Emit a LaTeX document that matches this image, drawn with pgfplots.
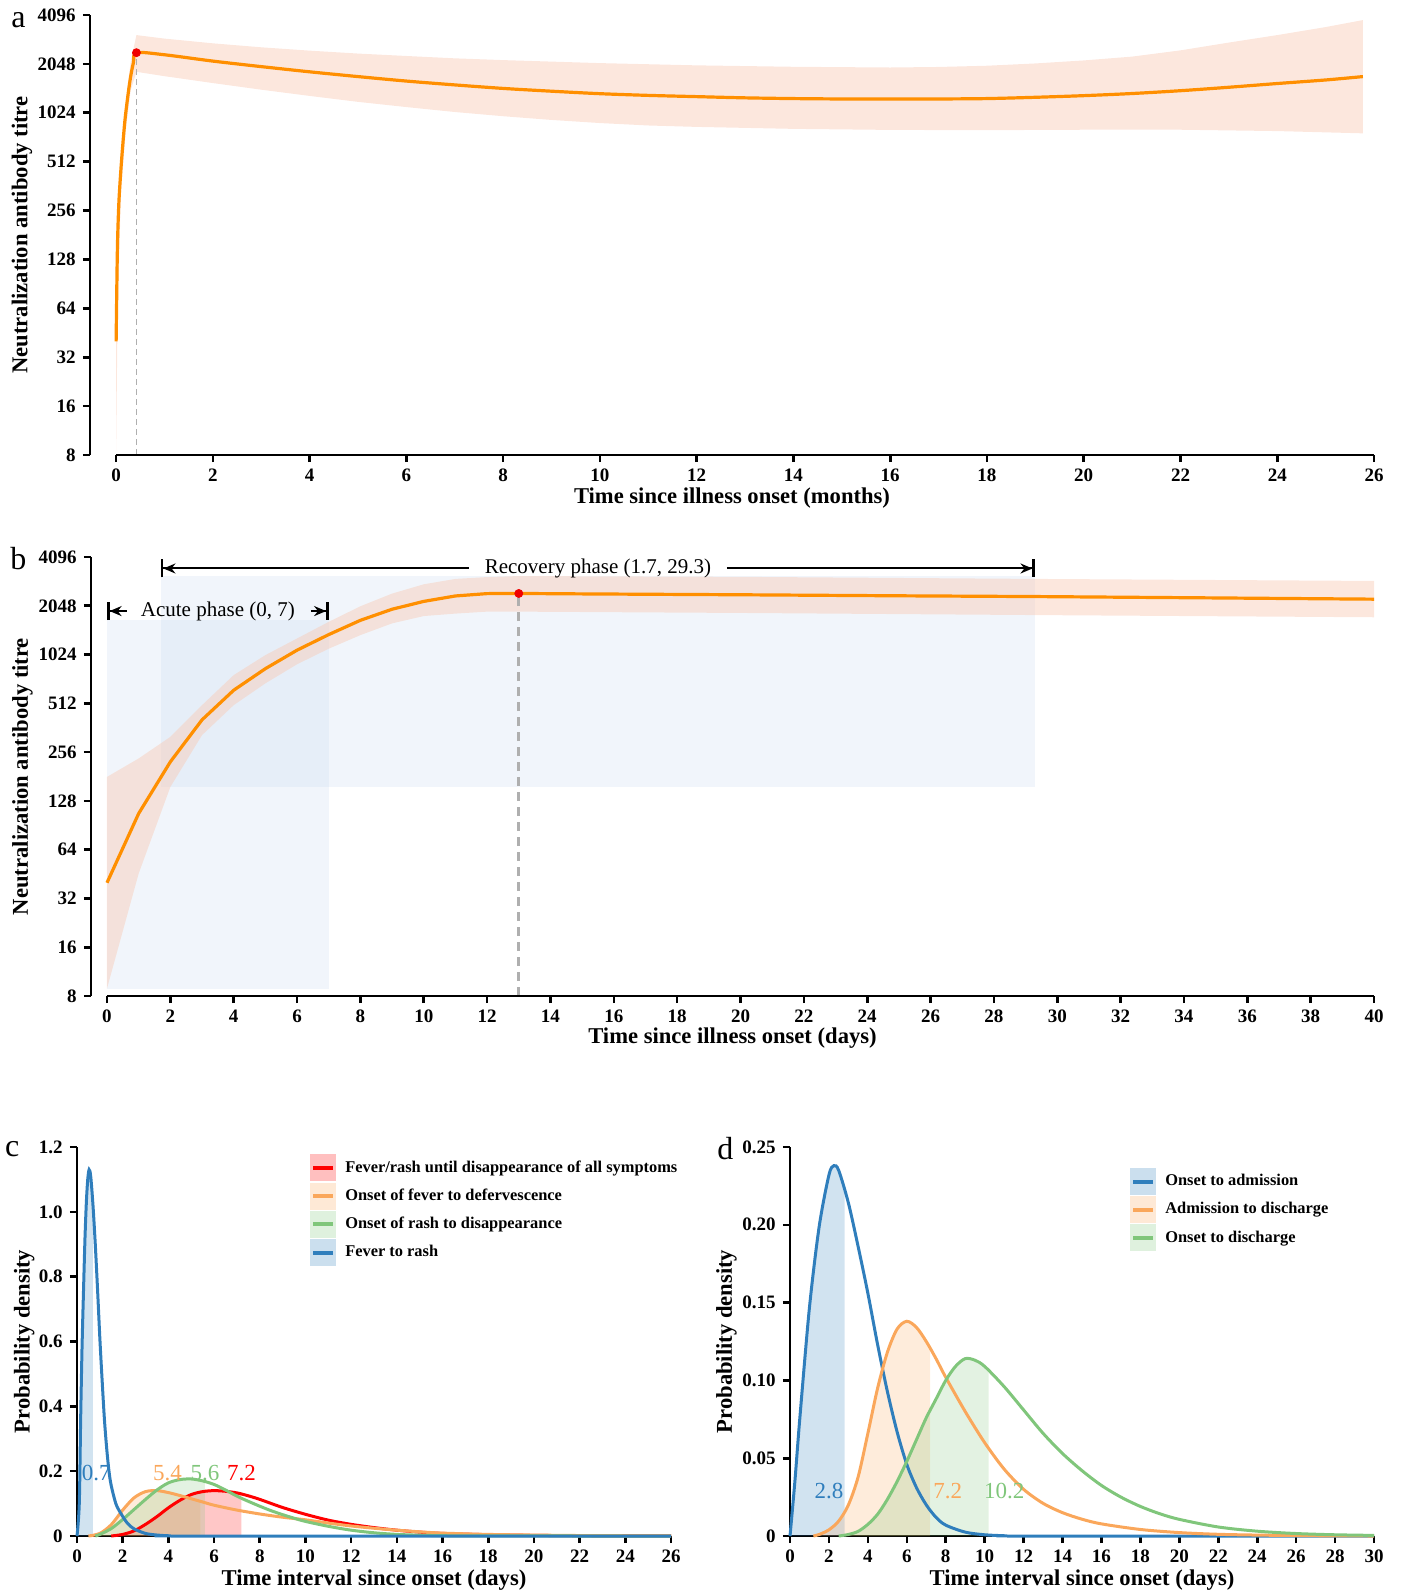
\documentclass[border=0pt]{standalone}
\usepackage{fontspec}
\setmainfont{Liberation Serif}
\usepackage{pgfplots}
\pgfplotsset{compat=1.18}
\usetikzlibrary{arrows.meta}

\definecolor{TitreOrange}{HTML}{FF8F00}
\definecolor{BandPink}{HTML}{F9C9B4}
\definecolor{PhaseBlue}{HTML}{C6D8EE}
\definecolor{DotRed}{HTML}{F00000}
\definecolor{DashGray}{HTML}{AFAFAF}
\definecolor{DensBlue}{HTML}{2F7EBC}
\definecolor{DensOrange}{HTML}{FAA75B}
\definecolor{DensGreen}{HTML}{80C67B}
\definecolor{DensRed}{HTML}{FF0000}

\pgfplotsset{
  panel/.style={
    scale only axis,
    clip=false,
    axis x line*=bottom,
    axis y line*=left,
    axis line style={line width=1.4pt,-},
    tick align=outside,
    major tick length=3.6pt,
    tick style={black,line width=1.3pt},
    tick label style={font=\bfseries\fontsize{9.5}{11}\selectfont},
    /pgf/number format/assume math mode=true,
    label style={font=\bfseries\fontsize{11.3}{13}\selectfont},
    scaled ticks=false,
  },
  dens/.style={
    panel,
    xlabel={Time interval since onset (days)},
    ylabel={Probability density},
    xlabel style={at={(axis description cs:0.5,-0.113)},anchor=center},
    legend cell align=left,
    legend style={draw=none,fill=none,inner sep=0pt,row sep=0.6pt,
      font=\bfseries\fontsize{8.2}{10}\selectfont,
      /tikz/every odd column/.append style={column sep=2.5pt}},
  },
}
\newcommand{\denskey}[1]{\addlegendimage{legend image code/.code={
  \fill[#1,draw=none,fill opacity=0.25] (0pt,-6.75pt) rectangle (13pt,6.75pt);
  \draw[#1,line width=2pt] (1.5pt,0pt) -- (11.5pt,0pt);}}}

\begin{document}
\begin{tikzpicture}
\path[use as bounding box] (0pt,0pt) rectangle (701pt,-796.5pt);

% panel letters
\node[font=\fontsize{16}{18}\selectfont] at (9.25pt,-10.25pt) {a};
\node[font=\fontsize{16}{18}\selectfont] at (9.15pt,-279.5pt) {b};
\node[font=\fontsize{16}{18}\selectfont] at (6.1pt,-574.5pt) {c};
\node[font=\fontsize{16}{18}\selectfont] at (362.7pt,-574.5pt) {d};

% ---------- a ----------
\begin{axis}[panel,
  at={(45pt,-227.5pt)}, anchor=south west, width=642pt, height=220pt,
  ymode=log, log basis y=2, ymin=8, ymax=4096,
  ytick={8,16,32,64,128,256,512,1024,2048,4096},
  yticklabels={8,16,32,64,128,256,512,1024,2048,4096},
  x axis line style={draw=none},
  xmin=-0.54, xmax=26, xtick={0,2,...,26},
  xlabel={Time since illness onset (months)},
  ylabel={Neutralization antibody titre},
  xlabel style={at={(axis description cs:0.5,-0.098)},anchor=center},
  ylabel style={at={(axis description cs:-0.053,0.5)},anchor=center},
]
% confidence band: upper edge left to right, lower edge right to left
\addplot[fill=BandPink, fill opacity=0.45, draw=none] coordinates {
  (0,46) (0.03,200) (0.1,560) (0.2,1200) (0.3,2100) (0.42,3080) (1,2930)
  (2,2740) (3,2590) (4,2470) (5,2370) (6,2290) (7,2215) (8,2160) (10,2070)
  (12,2005) (14,1965) (16,1945) (17,1960) (18,1995) (19,2060) (20,2150)
  (21,2270) (22,2480) (23,2770) (24,3080) (25,3450) (25.77,3810)
  (25.77,765) (24,790) (22,805) (20,805) (18,800) (16,803) (14,815) (12,838)
  (11,855) (10,885) (9,925) (8,975) (7,1035) (6,1110) (5,1195) (4,1300)
  (3,1420) (2,1560) (1,1720) (0.42,1830)
  (0.3,1400) (0.2,800) (0.1,330) (0.03,60) (0,8.5)
};
\addplot[DashGray, line width=0.6pt, dash pattern=on 3pt off 2pt] coordinates {(0.42,8) (0.42,2400)};
\addplot[TitreOrange, line width=1.6pt, smooth] coordinates {
  (0,40) (0.02,115) (0.034,185) (0.06,300) (0.103,477) (0.15,720) (0.19,968)
  (0.25,1350) (0.30,1710) (0.36,2100) (0.42,2400) (1,2330) (2,2130) (3,1970)
  (4,1830) (5,1710) (6,1605) (7,1520) (8,1446) (9,1390) (10,1342) (11,1310)
  (12,1287) (13,1265) (14,1252) (15,1245) (16,1243) (17,1245) (18,1252)
  (19,1275) (20,1305) (21,1345) (22,1400) (23,1470) (24,1550) (25,1630) (25.77,1710)
};
\addplot[only marks, mark=*, mark size=2pt, DotRed] coordinates {(0.42,2400)};
\draw[line width=1.4pt] (axis cs:0,8) -- (axis cs:26,8);
\end{axis}

% ---------- b ----------
\begin{axis}[panel,
  at={(45.5pt,-498pt)}, anchor=south west, width=641.5pt, height=219.5pt,
  ymode=log, log basis y=2, ymin=8, ymax=4096,
  ytick={8,16,32,64,128,256,512,1024,2048,4096},
  yticklabels={8,16,32,64,128,256,512,1024,2048,4096},
  x axis line style={draw=none},
  xmin=-0.505, xmax=40, xtick={0,2,...,40},
  xlabel={Time since illness onset (days)},
  ylabel={Neutralization antibody titre},
  xlabel style={at={(axis description cs:0.5,-0.097)},anchor=center},
  ylabel style={at={(axis description cs:-0.0535,0.5)},anchor=center},
]
\fill[PhaseBlue, fill opacity=0.25] (axis cs:0,8.8) rectangle (axis cs:7,1685);
\fill[PhaseBlue, fill opacity=0.25] (axis cs:1.7,155) rectangle (axis cs:29.3,3125);
\addplot[fill=BandPink, fill opacity=0.45, draw=none] coordinates {
  (0,180) (1,234) (2,318) (3,499) (4,765) (5,1016) (6,1287) (7,1630) (8,2034)
  (9,2435) (10,2780) (11,3000) (12,3080) (13,3125) (20,3090) (29.3,3000) (40,2915)
  (40,1740) (29.3,1795) (20,1850) (13,1885) (12,1885) (11,1833) (10,1770)
  (9,1595) (8,1350) (7,1113) (6,892) (5,680) (4,499) (3,326) (2,156) (1,45.6) (0,8.9)
};
\addplot[DashGray, line width=1.5pt, dash pattern=on 4.5pt off 3pt] coordinates {(13,8) (13,2440)};
\addplot[TitreOrange, line width=1.6pt] coordinates {
  (0,40) (1,107) (2,223) (3,405) (4,617) (5,838) (6,1090) (7,1360) (8,1666)
  (9,1950) (10,2180) (11,2355) (12,2435) (13,2440) (15,2425) (20,2395)
  (25,2360) (29.3,2335) (35,2290) (40,2250)
};
\addplot[only marks, mark=*, mark size=2pt, DotRed] coordinates {(13,2440)};
\draw[line width=1.4pt] (axis cs:0,8) -- (axis cs:40,8);
% phase annotations
\draw[line width=1pt, {Bar[width=9pt,line width=1.3pt]Stealth[length=6pt,width=5pt]}-]
  (axis cs:1.7,3480) -- (axis cs:11.43,3480);
\draw[line width=1pt, -{Stealth[length=6pt,width=5pt]Bar[width=9pt,line width=1.3pt]}]
  (axis cs:19.57,3480) -- (axis cs:29.3,3480);
\node[font=\fontsize{10.5}{12}\selectfont] at (axis cs:15.5,3480) {Recovery phase (1.7, 29.3)};
\draw[line width=1pt, {Bar[width=9pt,line width=1.3pt]Stealth[length=6pt,width=5pt]}-]
  (axis cs:0,1900) -- (axis cs:0.63,1900);
\draw[line width=1pt, -{Stealth[length=6pt,width=5pt]Bar[width=9pt,line width=1.3pt]}]
  (axis cs:6.44,1900) -- (axis cs:7,1900);
\node[font=\fontsize{10.5}{12}\selectfont] at (axis cs:3.5,1900) {Acute phase (0, 7)};
\end{axis}

% ---------- c ----------
\begin{axis}[dens,
  at={(38.5pt,-768pt)}, anchor=south west, width=297pt, height=194.5pt,
  xmin=0, xmax=26, ymin=0, ymax=1.2, xtick={0,2,...,26},
  ytick={0,0.2,0.4,0.6,0.8,1.0,1.2},
  yticklabels={0,0.2,0.4,0.6,0.8,1.0,1.2},
  ylabel style={at={(axis description cs:-0.089,0.5)},anchor=center},
  legend style={at={(rel axis cs:0.392,0.982)},anchor=north west},
]
% shaded areas up to the median
\addplot[fill=DensRed, fill opacity=0.22, draw=none, forget plot] coordinates {
  (1.5,0) (2,0.005) (2.5,0.016) (3,0.036) (3.5,0.06) (4,0.087) (4.5,0.11)
  (5,0.128) (5.5,0.137) (6,0.14) (6.5,0.138) (7,0.133) (7.2,0.129) (7.2,0)};
\addplot[fill=DensOrange, fill opacity=0.22, draw=none, forget plot] coordinates {
  (0.5,0) (1,0.008) (1.5,0.035) (2,0.08) (2.5,0.118) (3,0.137) (3.5,0.14)
  (4,0.134) (4.5,0.125) (5,0.115) (5.4,0.107) (5.4,0)};
\addplot[fill=DensGreen, fill opacity=0.22, draw=none, forget plot] coordinates {
  (0.8,0) (1,0.005) (1.5,0.023) (2,0.051) (2.5,0.082) (3,0.113) (3.5,0.142)
  (4,0.164) (4.5,0.174) (5,0.176) (5.5,0.17) (5.6,0.168) (5.6,0)};
\addplot[fill=DensBlue, fill opacity=0.22, draw=none, forget plot] coordinates {
  (0,0) (0.1,0.1) (0.16,0.36) (0.22,0.58) (0.29,0.77) (0.35,0.92) (0.41,1.03)
  (0.47,1.10) (0.53,1.13) (0.6,1.11) (0.7,1.02) (0.7,0)};
% density curves
\addplot[DensRed, line width=1.5pt, smooth, forget plot] coordinates {
  (1.5,0) (2,0.005) (2.5,0.016) (3,0.036) (3.5,0.06) (4,0.087) (4.5,0.11)
  (5,0.128) (5.5,0.137) (6,0.14) (6.5,0.138) (7,0.133) (7.5,0.124) (8,0.113)
  (9,0.088) (10,0.067) (11,0.049) (12,0.036) (13,0.026) (14,0.018) (15,0.012)
  (16,0.008) (18,0.004) (20,0.002) (22,0.001) (24,0.0005) (26,0.0002)
};
\addplot[DensOrange, line width=1.5pt, smooth, forget plot] coordinates {
  (0.5,0) (1,0.008) (1.5,0.035) (2,0.08) (2.5,0.118) (3,0.137) (3.5,0.14)
  (4,0.134) (4.5,0.125) (5,0.115) (5.5,0.105) (6,0.095) (7,0.08) (8,0.068)
  (9,0.058) (10,0.05) (11,0.04) (12,0.031) (13,0.024) (14,0.018) (15,0.013)
  (16,0.009) (18,0.005) (20,0.003) (22,0.0015) (24,0.0008) (26,0.0004)
};
\addplot[DensGreen, line width=1.5pt, smooth, forget plot] coordinates {
  (0.8,0) (1,0.005) (1.5,0.023) (2,0.051) (2.5,0.082) (3,0.113) (3.5,0.142)
  (4,0.164) (4.5,0.174) (5,0.176) (5.5,0.17) (6,0.159) (6.5,0.142) (7,0.123)
  (7.5,0.107) (8,0.092) (8.5,0.078) (9,0.066) (9.5,0.055) (10,0.045) (11,0.03)
  (12,0.018) (13,0.01) (14,0.005) (15,0.0025) (16,0.001) (18,0.0002) (26,0)
};
\addplot[DensBlue, line width=1.5pt, smooth, forget plot] coordinates {
  (0,0) (0.1,0.1) (0.16,0.36) (0.22,0.58) (0.29,0.77) (0.35,0.92) (0.41,1.03)
  (0.47,1.10) (0.53,1.13) (0.6,1.11) (0.7,1.02) (0.8,0.9) (0.9,0.76) (1.0,0.61)
  (1.1,0.48) (1.2,0.36) (1.3,0.27) (1.4,0.2) (1.5,0.155) (1.7,0.1) (1.9,0.072)
  (2.2,0.04) (2.5,0.022) (3,0.008) (3.5,0.003) (4,0.001) (5,0) (26,0)
};
\node[DensBlue, font=\fontsize{11.5}{13}\selectfont] at (axis cs:0.84,0.195) {0.7};
\node[DensOrange, font=\fontsize{11.5}{13}\selectfont] at (axis cs:3.96,0.195) {5.4};
\node[DensGreen, font=\fontsize{11.5}{13}\selectfont] at (axis cs:5.6,0.195) {5.6};
\node[DensRed, font=\fontsize{11.5}{13}\selectfont] at (axis cs:7.2,0.195) {7.2};
\denskey{DensRed}\addlegendentry{Fever/rash until disappearance of all symptoms}
\denskey{DensOrange}\addlegendentry{Onset of fever to defervescence}
\denskey{DensGreen}\addlegendentry{Onset of rash to disappearance}
\denskey{DensBlue}\addlegendentry{Fever to rash}
\end{axis}

% ---------- d ----------
\begin{axis}[dens,
  at={(395pt,-768pt)}, anchor=south west, width=292pt, height=194.5pt,
  xmin=0, xmax=30, ymin=0, ymax=0.25, xtick={0,2,...,30},
  ytick={0,0.05,0.1,0.15,0.2,0.25},
  yticklabels={0,0.05,0.10,0.15,0.20,0.25},
  ylabel style={at={(axis description cs:-0.109,0.5)},anchor=center},
  legend style={at={(rel axis cs:0.582,0.947)},anchor=north west},
]
\addplot[fill=DensBlue, fill opacity=0.22, draw=none, forget plot] coordinates {
  (0,0) (0.25,0.035) (0.5,0.075) (1,0.147) (1.5,0.199) (2,0.232) (2.25,0.238)
  (2.5,0.235) (2.8,0.222) (2.8,0)};
\addplot[fill=DensOrange, fill opacity=0.22, draw=none, forget plot] coordinates {
  (1.2,0) (1.5,0.001) (2,0.004) (2.5,0.0096) (3,0.02) (3.5,0.038) (4,0.066)
  (4.5,0.095) (5,0.118) (5.5,0.133) (6,0.138) (6.5,0.134) (7,0.125) (7.2,0.121) (7.2,0)};
\addplot[fill=DensGreen, fill opacity=0.22, draw=none, forget plot] coordinates {
  (2.5,0) (3,0.001) (3.5,0.003) (4,0.0075) (4.5,0.014) (5,0.0235) (5.5,0.035)
  (6,0.048) (6.5,0.062) (7,0.076) (7.5,0.088) (8,0.1) (8.5,0.109) (9,0.114)
  (9.5,0.113) (10,0.109) (10.2,0.106) (10.2,0)};
\addplot[DensBlue, line width=1.5pt, smooth, forget plot] coordinates {
  (0,0) (0.25,0.035) (0.5,0.075) (1,0.147) (1.5,0.199) (2,0.232) (2.25,0.238)
  (2.5,0.235) (3,0.214) (3.5,0.186) (4,0.156) (4.5,0.123) (5,0.093) (5.5,0.067)
  (6,0.046) (6.5,0.031) (7,0.02) (7.5,0.012) (8,0.007) (9,0.0025) (10,0.0008)
  (11,0.0002) (12,0) (30,0)
};
\addplot[DensOrange, line width=1.5pt, smooth, forget plot] coordinates {
  (1.2,0) (1.5,0.001) (2,0.004) (2.5,0.0096) (3,0.02) (3.5,0.038) (4,0.066)
  (4.5,0.095) (5,0.118) (5.5,0.133) (6,0.138) (6.5,0.134) (7,0.125) (7.5,0.114)
  (8,0.102) (9,0.08) (10,0.06) (11,0.043) (12,0.03) (13,0.021) (14,0.015)
  (15,0.0108) (16,0.0078) (18,0.0042) (20,0.0022) (22,0.0011) (24,0.0006)
  (26,0.0003) (28,0.0001) (30,0)
};
\addplot[DensGreen, line width=1.5pt, smooth, forget plot] coordinates {
  (2.5,0) (3,0.001) (3.5,0.003) (4,0.0075) (4.5,0.014) (5,0.0235) (5.5,0.035)
  (6,0.048) (6.5,0.062) (7,0.076) (7.5,0.088) (8,0.1) (8.5,0.109) (9,0.114)
  (9.5,0.113) (10,0.109) (11,0.096) (12,0.081) (13,0.066) (14,0.053) (15,0.042)
  (16,0.0325) (17,0.025) (18,0.019) (19,0.0143) (20,0.0107) (22,0.0058)
  (24,0.0031) (26,0.0016) (28,0.0008) (30,0.0004)
};
\node[DensBlue, font=\fontsize{11.5}{13}\selectfont] at (axis cs:2.0,0.029) {2.8};
\node[DensOrange, font=\fontsize{11.5}{13}\selectfont] at (axis cs:8.1,0.029) {7.2};
\node[DensGreen, font=\fontsize{11.5}{13}\selectfont] at (axis cs:11.0,0.029) {10.2};
\denskey{DensBlue}\addlegendentry{Onset to admission}
\denskey{DensOrange}\addlegendentry{Admission to discharge}
\denskey{DensGreen}\addlegendentry{Onset to discharge}
\end{axis}
\end{tikzpicture}
\end{document}
